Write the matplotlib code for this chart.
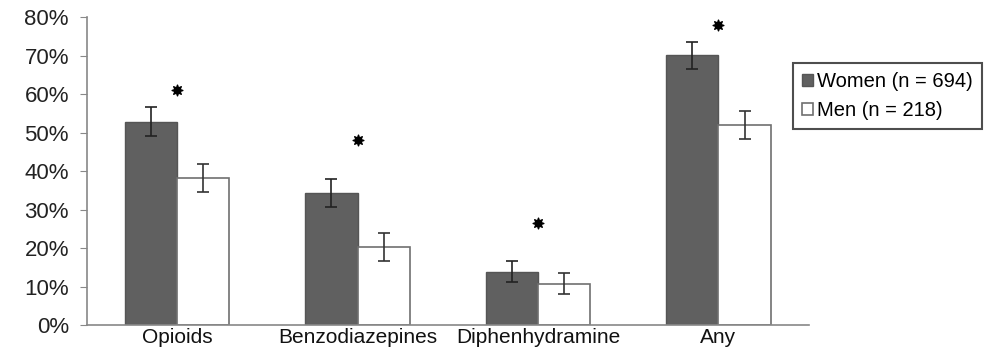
import matplotlib
matplotlib.use('Agg')
import matplotlib.pyplot as plt
import numpy as np

categories = ["Opioids", "Benzodiazepines", "Diphenhydramine", "Any"]
women      = [52.8, 34.3, 13.8, 70.1]
women_err  = [3.7, 3.6, 2.7, 3.5]
men        = [38.2, 20.3, 10.7, 51.9]
men_err    = [3.7, 3.6, 2.7, 3.6]
star_y     = [61.0, 48.0, 26.5, 78.0]   # asterisk heights (%)
yticks     = [0, 10, 20, 30, 40, 50, 60, 70, 80]

plt.rcParams['font.family'] = ['Liberation Sans', 'DejaVu Sans']

fig = plt.figure(figsize=(9.94, 3.5), dpi=100)
ax = fig.add_axes([0.0875, 0.0714, 0.726, 0.88])

x = np.arange(len(categories))
w = 0.29
ax.bar(x - w/2, women, w, color='#606060', edgecolor='#555555', linewidth=1.0,
       label="Women (n = 694)", zorder=2)
ax.bar(x + w/2, men, w, color='white', edgecolor='#707070', linewidth=1.2,
       label="Men (n = 218)", zorder=2)
ax.errorbar(x - w/2, women, yerr=women_err, fmt='none', ecolor='#222222',
            elinewidth=1.2, capsize=4, capthick=1.2, zorder=3)
ax.errorbar(x + w/2, men, yerr=men_err, fmt='none', ecolor='#333333',
            elinewidth=1.2, capsize=4, capthick=1.2, zorder=3)
ax.scatter(x, star_y, marker=(8, 1, 0), s=60, color='black', zorder=4)

ax.set_xlim(-0.5, 3.5)
ax.set_ylim(0, 80)
ax.set_yticks(yticks)
ax.set_yticklabels([str(t) + "%" for t in yticks], fontsize=16, color='#222222')
ax.set_xticks(x)
ax.set_xticklabels(categories, fontsize=15, color='#111111')
ax.tick_params(axis='x', length=0, pad=2)
ax.tick_params(axis='y', length=5, color='#888888', pad=8)

for s in ['top', 'right']:
    ax.spines[s].set_visible(False)
for s in ['left', 'bottom']:
    ax.spines[s].set_color('#888888')
    ax.spines[s].set_linewidth(1.2)

leg = fig.legend(loc='upper left', bbox_to_anchor=(0.798, 0.82), fontsize=14.5,
                 frameon=True, fancybox=False, edgecolor='#222222',
                 handlelength=0.55, handleheight=0.55, handletextpad=0.2,
                 borderpad=0.45, labelspacing=0.5, borderaxespad=0)
leg.get_frame().set_linewidth(1.5)

fig.savefig("out.png", dpi=100)
